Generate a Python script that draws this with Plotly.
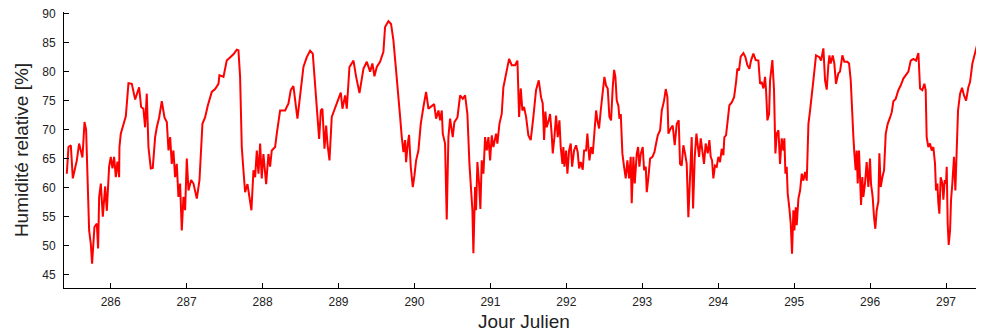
"""Série temporelle de l'humidité relative"""

import plotly.graph_objects as go

# Jours juliens et humidité relative (%)
jour_julien = [
    285.422, 285.444, 285.475, 285.501, 285.554, 285.584, 285.628, 285.655, 285.676, 285.716,
    285.738, 285.755, 285.786, 285.817, 285.834, 285.848, 285.870, 285.896, 285.927, 285.949,
    285.979, 286.001, 286.023, 286.045, 286.067, 286.089, 286.111, 286.115, 286.133, 286.168,
    286.199, 286.234, 286.278, 286.322, 286.374, 286.401, 286.431, 286.453, 286.475, 286.497,
    286.528, 286.554, 286.585, 286.607, 286.638, 286.673, 286.708, 286.739, 286.761, 286.783,
    286.804, 286.826, 286.848, 286.870, 286.892, 286.914, 286.936, 286.958, 286.980, 287.002,
    287.024, 287.059, 287.090, 287.134, 287.169, 287.208, 287.243, 287.278, 287.331, 287.375,
    287.419, 287.432,
    287.485, 287.528, 287.572, 287.616, 287.660, 287.682, 287.704, 287.726, 287.748, 287.770,
    287.801, 287.827, 287.853, 287.880, 287.902, 287.924, 287.946, 287.968, 287.989, 288.011,
    288.047, 288.077, 288.099, 288.121, 288.165, 288.187, 288.231, 288.297, 288.341, 288.371,
    288.406, 288.459, 288.494, 288.538, 288.582, 288.626, 288.661, 288.692, 288.723, 288.745,
    288.767, 288.788, 288.815, 288.837, 288.854, 288.881, 288.911, 288.955, 288.999, 289.030,
    289.052, 289.087, 289.109, 289.144, 289.197, 289.232, 289.276,
    289.328, 289.372, 289.416, 289.446, 289.473, 289.504, 289.547, 289.591, 289.613, 289.657,
    289.692, 289.723, 289.758, 289.789, 289.811, 289.833, 289.855, 289.877, 289.890, 289.912,
    289.929, 289.951, 289.978, 290.000, 290.022, 290.052, 290.083, 290.118, 290.153, 290.184,
    290.228, 290.259, 290.285, 290.316, 290.338, 290.360, 290.373, 290.403, 290.425, 290.447,
    290.469, 290.504, 290.526, 290.566, 290.601, 290.636, 290.667, 290.697, 290.724, 290.741,
    290.763, 290.776, 290.798, 290.811, 290.829, 290.851, 290.868, 290.886, 290.908, 290.930,
    290.952, 290.974, 290.996, 291.018, 291.040, 291.075, 291.092, 291.119, 291.149, 291.171,
    291.215, 291.246, 291.281, 291.325,
    291.356, 291.378, 291.400, 291.421, 291.443, 291.470, 291.500, 291.531, 291.566, 291.601,
    291.637, 291.667, 291.689, 291.707, 291.724, 291.742, 291.768, 291.786, 291.808, 291.821,
    291.843, 291.865, 291.887, 291.909, 291.926, 291.948, 291.961, 291.975, 291.997, 292.014,
    292.036, 292.058, 292.076, 292.102, 292.128, 292.150, 292.168, 292.190, 292.216, 292.234,
    292.260, 292.277, 292.304, 292.326, 292.348, 292.365, 292.392, 292.409, 292.431, 292.453,
    292.475, 292.501, 292.523, 292.545, 292.567, 292.589, 292.611, 292.629, 292.646, 292.664,
    292.686, 292.699, 292.717, 292.738, 292.760, 292.782, 292.804, 292.826, 292.848, 292.861,
    292.883, 292.901, 292.927, 292.945, 292.962, 292.980, 293.006, 293.024, 293.046, 293.059,
    293.081, 293.103, 293.134, 293.160, 293.182, 293.204, 293.235, 293.257, 293.287, 293.309,
    293.331,
    293.344, 293.374, 293.401, 293.427, 293.454, 293.480, 293.497, 293.519, 293.541, 293.563,
    293.585, 293.607, 293.638, 293.651, 293.669, 293.691, 293.713, 293.730, 293.748, 293.770,
    293.792, 293.813, 293.835, 293.862, 293.884, 293.901, 293.919, 293.936, 293.958, 293.980,
    294.002, 294.024, 294.046, 294.068, 294.081, 294.103, 294.125, 294.147, 294.178, 294.209,
    294.235, 294.252, 294.274, 294.296, 294.332, 294.358, 294.384, 294.411, 294.432, 294.463,
    294.494, 294.529, 294.551, 294.573, 294.595, 294.617, 294.630, 294.648, 294.670, 294.683,
    294.713, 294.735, 294.753, 294.771, 294.793, 294.814, 294.836, 294.858, 294.871, 294.885,
    294.902, 294.915, 294.937, 294.955, 294.972, 294.990, 295.003, 295.021, 295.034, 295.056,
    295.078, 295.100, 295.122, 295.144, 295.166, 295.188, 295.210, 295.232,
    295.253, 295.288, 295.332, 295.354, 295.385, 295.407, 295.429, 295.450, 295.464, 295.481,
    295.508, 295.529, 295.551, 295.582, 295.604, 295.635, 295.661, 295.701, 295.723, 295.745,
    295.767, 295.780, 295.793, 295.810, 295.824, 295.837, 295.854, 295.868, 295.881, 295.898,
    295.911, 295.933, 295.955, 295.977, 295.999, 296.012, 296.034, 296.052, 296.069, 296.087,
    296.109, 296.122, 296.140, 296.162, 296.184, 296.206, 296.232, 296.263, 296.285, 296.307,
    296.337, 296.372, 296.403, 296.438, 296.473, 296.504, 296.535, 296.570, 296.605, 296.636,
    296.658, 296.688, 296.715, 296.732, 296.745, 296.767, 296.789, 296.811, 296.833, 296.855,
    296.868, 296.886, 296.899, 296.912, 296.930, 296.952, 296.965, 296.983, 297.000, 297.009,
    297.022, 297.035, 297.053, 297.066, 297.083, 297.105, 297.123, 297.141, 297.158, 297.185,
    297.211, 297.237, 297.264, 297.294, 297.316, 297.347, 297.382, 297.413, 297.448, 297.474,
]

humidite = [
    62.4, 67.0, 67.3, 61.6, 64.7, 67.6, 65.2, 71.3, 70.0, 52.6,
    50.3, 46.9, 53.2, 53.8, 49.5, 58.4, 60.7, 55.0, 60.2, 56.0,
    63.6, 65.3, 63.3, 65.3, 61.8, 64.5, 61.8, 67.0, 69.3, 71.0,
    72.3, 78.0, 77.9, 75.2, 77.3, 73.9, 73.6, 70.4, 76.2, 67.0,
    63.3, 63.4, 68.7, 70.4, 72.1, 74.9, 72.1, 71.3, 66.4, 68.7,
    64.1, 66.4, 61.8, 64.1, 58.4, 60.7, 52.6, 58.4, 56.1, 65.0,
    59.5, 61.3, 60.7, 58.1, 61.3, 71.0, 72.1, 74.1, 76.5, 77.0,
    77.9, 79.4,
    79.1, 81.9, 82.5, 83.0, 83.8, 83.7, 79.1, 67.0, 63.0, 59.2,
    60.6, 58.4, 56.1, 63.0, 61.8, 66.4, 62.4, 67.6, 61.6, 65.8,
    60.6, 65.8, 63.6, 66.4, 67.0, 69.3, 73.3, 73.3, 74.5, 76.8,
    77.5, 71.9, 76.2, 80.8, 82.5, 83.6, 83.1, 77.9, 73.3, 68.4,
    73.3, 73.6, 66.7, 70.7, 67.6, 64.7, 72.2, 73.6, 75.3, 76.4,
    73.6, 75.9, 73.6, 80.8, 81.9, 79.1, 76.3,
    80.5, 81.7, 80.0, 81.4, 79.2, 80.8, 81.7, 83.4, 87.7, 88.7,
    88.2, 85.4, 80.2, 74.5, 72.2, 68.7, 66.1, 68.2, 64.4, 67.6,
    69.1, 63.6, 60.1, 62.1, 64.7, 66.4, 71.0, 73.9, 76.5, 73.6,
    74.0, 74.4, 71.9, 73.3, 71.6, 73.3, 69.3, 67.6, 54.5, 68.7,
    71.9, 68.7, 71.3, 72.1, 75.9, 75.3, 75.9, 72.7, 64.1, 60.1,
    56.1, 48.7, 60.1, 56.1, 64.4, 60.7, 56.3, 64.7, 62.4, 68.7,
    66.4, 68.7, 64.7, 69.0, 67.0, 69.3, 67.6, 71.0, 72.7, 77.3,
    80.5, 82.2, 81.1, 81.1,
    81.9, 72.2, 77.1, 73.3, 73.9, 72.2, 69.0, 68.2, 72.2, 76.8,
    78.5, 75.6, 74.5, 68.2, 73.1, 70.4, 71.6, 72.7, 69.0, 65.9,
    68.7, 72.4, 68.7, 71.6, 67.0, 64.1, 67.0, 63.6, 66.4, 62.4,
    66.4, 67.6, 63.6, 66.4, 67.3, 66.1, 63.3, 64.4, 63.1, 66.4,
    66.4, 69.3, 64.7, 67.0, 65.8, 69.3, 73.3, 71.6, 70.2, 73.3,
    76.5, 79.1, 77.6, 77.1, 72.2, 71.6, 77.3, 80.3, 79.1, 75.0,
    74.1, 71.9, 72.7, 65.9, 63.6, 61.6, 64.7, 61.6, 65.3, 57.3,
    65.3, 60.7, 65.8, 67.0, 63.6, 65.8, 67.0, 63.0, 63.6, 59.2,
    61.8, 65.0, 65.3, 66.1, 67.6, 69.0, 69.9, 73.3, 75.0, 77.0,
    75.6,
    69.3, 70.2, 70.7, 67.3, 71.0, 71.6, 64.1, 63.8, 67.3, 65.9,
    64.1, 54.9, 65.3, 68.7, 56.4, 65.3, 69.3, 67.6, 65.3, 68.5,
    66.4, 64.1, 67.6, 65.9, 68.2, 65.3, 64.7, 61.6, 63.8, 63.6,
    65.3, 64.4, 66.7, 65.6, 68.7, 69.0, 71.6, 74.2, 74.7, 75.6,
    78.2, 80.5, 80.2, 82.6, 83.2, 82.5, 81.1, 80.5, 81.9, 83.1,
    82.0, 81.9, 77.9, 78.2, 77.1, 79.1, 76.8, 71.6, 72.7, 78.5,
    82.0, 76.8, 65.9, 69.3, 69.9, 64.1, 68.5, 66.4, 68.5, 62.4,
    63.6, 59.0, 56.4, 53.8, 48.6, 56.1, 52.6, 56.6, 53.5, 58.1,
    59.5, 62.4, 61.2, 62.7, 61.2, 71.0, 73.3, 76.5,
    78.5, 82.8, 82.5, 81.9, 84.0, 78.5, 76.9, 81.1, 82.8, 81.4,
    82.8, 81.4, 77.9, 79.7, 80.0, 82.8, 81.7, 81.7, 81.4, 78.5,
    70.4, 68.7, 65.9, 63.0, 66.4, 60.7, 66.4, 59.5, 57.0, 61.8,
    58.4, 60.7, 64.4, 60.1, 65.0, 60.7, 58.4, 54.9, 52.9, 56.1,
    57.6, 65.9, 60.1, 61.8, 63.0, 69.3, 71.0, 72.1, 73.0, 74.9,
    75.3, 76.8, 77.6, 78.8, 79.4, 80.0, 81.9, 82.2, 81.9, 83.2,
    77.1, 76.8, 77.9, 76.8, 68.7, 67.0, 67.6, 66.4, 67.0, 64.1,
    59.5, 60.7, 57.3, 55.5, 61.8, 60.7, 57.9, 61.3, 60.7, 63.6,
    53.8, 50.1, 52.6, 57.9, 60.7, 65.3, 59.5, 67.6, 73.3, 76.2,
    77.2, 75.9, 75.0, 77.3, 78.2, 81.4, 83.4, 84.8, 86.3, 85.7,
]

# Graduations des axes
ticks_jour = [286, 287, 288, 289, 290, 291, 292, 293, 294, 295, 296, 297]
ticks_humidite = [45, 50, 55, 60, 65, 70, 75, 80, 85, 90]

fig = go.Figure()

# Courbe de l'humidité
fig.add_trace(go.Scatter(x=jour_julien, y=humidite, mode="lines",
                         line=dict(color="#ff0000", width=2),
                         showlegend=False))

# Style des axes (traits internes, pas de grille)
axe = dict(showline=True, linecolor="#000000", linewidth=1,
           ticks="inside", ticklen=5, tickwidth=1, tickcolor="#000000",
           showgrid=False, zeroline=False, ticklabeloverflow="allow",
           tickfont=dict(family="Liberation Sans, Arial", size=12, color="#222222"),
           title_font=dict(family="Liberation Sans, Arial", size=19, color="#222222"))

fig.update_xaxes(axe, range=[285.385, 297.5], tickvals=ticks_jour,
                 title_text="Jour Julien", title_standoff=6, ticklabelstandoff=3)
fig.update_yaxes(axe, range=[42.69, 90.28], tickvals=ticks_humidite,
                 title_text="Humidité relative [%]", title_standoff=8,
                 ticklabelstandoff=5)

# La page ajoute 8 px de marge : figure réduite en conséquence
fig.update_layout(width=976, height=328, plot_bgcolor="white",
                  paper_bgcolor="white",
                  margin=dict(l=56, r=0, t=4, b=48, autoexpand=False))

fig.write_html("out.html")
